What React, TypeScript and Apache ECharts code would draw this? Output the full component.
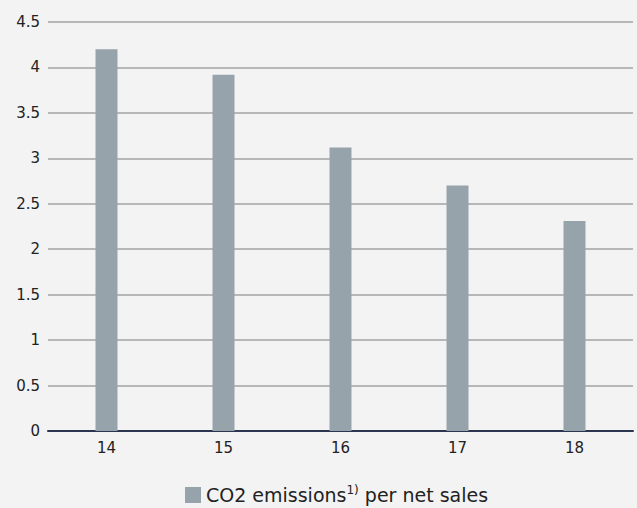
import React, { useEffect, useRef } from "react";
import * as echarts from "echarts";

const categories = ["14", "15", "16", "17", "18"];
const values = [4.2, 3.92, 3.12, 2.7, 2.31];
const seriesName = "CO2 emissions per net sales";

export default function App() {
  const ref = useRef<HTMLDivElement>(null);
  useEffect(() => {
    document.body.style.margin = "0";
    const chart = echarts.init(ref.current!, null, { renderer: "svg" });
    chart.setOption({
      animation: false,
      backgroundColor: "#f3f3f3",
      textStyle: { fontFamily: "'DejaVu Sans', sans-serif" },
      grid: { left: 48, right: 4, top: 22, bottom: 77 },
      xAxis: {
        type: "category",
        data: categories,
        axisLine: { lineStyle: { color: "#2c3550", width: 2 } },
        axisTick: { show: false },
        axisLabel: { color: "#222", fontSize: 15, margin: 9 },
      },
      yAxis: {
        type: "value",
        min: 0,
        max: 4.5,
        interval: 0.5,
        axisLine: { show: false },
        axisTick: { show: false },
        axisLabel: { color: "#222", fontSize: 15, margin: 8 },
        splitLine: { lineStyle: { color: "#a3a3a3", width: 1.5 } },
      },
      legend: {
        top: 484,
        left: 185,
        icon: "rect",
        itemWidth: 16,
        itemHeight: 16,
        itemGap: 10,
        padding: 0,
        data: [seriesName],
        formatter: () => "CO2 emissions{sup|1)} per net sales",
        textStyle: {
          color: "#222",
          fontSize: 19,
          lineHeight: 22,
          rich: {
            sup: { fontSize: 12, verticalAlign: "top", lineHeight: 22, padding: [0, 0, 9, 0], color: "#222" },
          },
        },
      },
      series: [
        {
          name: seriesName,
          type: "bar",
          data: values,
          barWidth: 22,
          itemStyle: { color: "#97a3ab" },
        },
      ],
    });
    return () => chart.dispose();
  }, []);
  return <div ref={ref} style={{ width: 637, height: 508 }} />;
}
